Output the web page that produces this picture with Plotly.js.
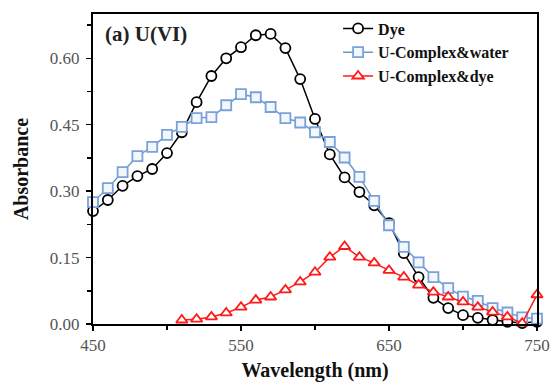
<!DOCTYPE html>
<html>
<head>
<meta charset="utf-8">
<script src="https://cdn.plot.ly/plotly-3.0.1.min.js"></script>
<style>html,body{margin:0;padding:0;background:#fff;}#chart{width:553px;height:383px;}</style>
</head>
<body>
<div id="chart"></div>
<script>
const wavelengthDye = [450,460,470,480,490,500,510,520,530,540,550,560,570,580,590,600,610,620,630,640,650,660,670,680,690,700,710,720,730,740,750];
const absDye = [0.255,0.280,0.312,0.334,0.350,0.386,0.433,0.501,0.560,0.600,0.625,0.652,0.655,0.623,0.553,0.463,0.383,0.331,0.298,0.268,0.228,0.160,0.106,0.059,0.036,0.020,0.014,0.009,0.005,0.002,0.005];
const wavelengthWater = [450,460,470,480,490,500,510,520,530,540,550,560,570,580,590,600,610,620,630,640,650,660,670,680,690,700,710,720,730,740,750];
const absWater = [0.275,0.307,0.343,0.379,0.400,0.427,0.445,0.465,0.467,0.494,0.519,0.512,0.490,0.465,0.455,0.433,0.411,0.376,0.332,0.278,0.223,0.174,0.139,0.106,0.081,0.062,0.052,0.036,0.026,0.015,0.012];
const wavelengthComplexDye = [510,520,530,540,550,560,570,580,590,600,610,620,630,640,650,660,670,680,690,700,710,720,730,740,750];
const absComplexDye = [0.009,0.011,0.016,0.025,0.038,0.054,0.061,0.077,0.095,0.117,0.151,0.175,0.151,0.138,0.121,0.106,0.088,0.072,0.061,0.050,0.038,0.027,0.016,0.002,0.066];
const seriesNames = ["Dye","U-Complex&water","U-Complex&dye"];
const xTicks = [450,550,650,750];
const yTicks = [0,0.15,0.30,0.45,0.60];
const yTickLabels = ["0.00","0.15","0.30","0.45","0.60"];

const serif = "Liberation Serif, Times New Roman, serif";

const traces = [
  {x: wavelengthDye, y: absDye, name: "<b>" + seriesNames[0] + "</b>", mode: "lines+markers", cliponaxis: false,
   line: {color: "#000000", width: 1.5},
   marker: {symbol: "circle", size: 10, color: "#ffffff", line: {color: "#000000", width: 1.8}}},
  {x: wavelengthWater, y: absWater, name: "<b>" + seriesNames[1] + "</b>", mode: "lines+markers", cliponaxis: false,
   line: {color: "#6e98d0", width: 1.5},
   marker: {symbol: "square", size: 10, color: "#f2f7fd", line: {color: "#7aa2d8", width: 1.8}}},
  {x: wavelengthComplexDye, y: absComplexDye, name: "<b>" + seriesNames[2] + "</b>", mode: "lines+markers", cliponaxis: false,
   line: {color: "#ff1a1a", width: 1.5},
   marker: {symbol: "triangle-up", size: 10, color: "#ffffff", line: {color: "#ff1a1a", width: 1.8}}}
];

const layout = {
  width: 553, height: 383,
  margin: {l: 93, r: 16, t: 14, b: 59},
  paper_bgcolor: "#ffffff", plot_bgcolor: "#ffffff",
  font: {family: serif, color: "#000"},
  showlegend: true,
  legend: {x: 0.552, y: 1.008, xanchor: "left", yanchor: "top", bgcolor: "rgba(0,0,0,0)",
           font: {family: serif, size: 16, color: "#111"}, tracegroupgap: 0, itemwidth: 30},
  xaxis: {range: [450, 750], tickvals: xTicks, ticktext: xTicks.map(String),
          showgrid: false, zeroline: false, showline: true, linecolor: "#000", linewidth: 2,
          mirror: true, ticks: "outside", ticklen: 5, tickwidth: 1.5, tickcolor: "#000",
          tickfont: {family: serif, size: 17, color: "#555"},
          minor: {dtick: 50, tick0: 450, ticks: "outside", ticklen: 4, tickwidth: 1.5, tickcolor: "#000", showgrid: false},
          title: {text: "<b>Wavelength (nm)</b>", font: {family: serif, size: 20, color: "#111"}, standoff: 9}},
  yaxis: {range: [0, 0.70], tickvals: yTicks, ticktext: yTickLabels,
          showgrid: false, zeroline: false, showline: true, linecolor: "#000", linewidth: 2,
          mirror: true, ticks: "outside", ticklen: 5, tickwidth: 1.5, tickcolor: "#000",
          tickfont: {family: serif, size: 17, color: "#555"}, ticklabelstandoff: 3,
          minor: {dtick: 0.075, tick0: 0, ticks: "outside", ticklen: 4, tickwidth: 1.5, tickcolor: "#000", showgrid: false},
          title: {text: "<b>Absorbance</b>", font: {family: serif, size: 20, color: "#111"}, standoff: 16}},
  annotations: [
    {xref: "paper", yref: "paper", x: 0.023, y: 0.935, xanchor: "left", yanchor: "middle",
     text: "<b>(a) U(VI)</b>", showarrow: false, font: {family: serif, size: 21, color: "#222"}}
  ]
};

Plotly.newPlot("chart", traces, layout, {displayModeBar: false, staticPlot: true});
</script>
</body>
</html>
